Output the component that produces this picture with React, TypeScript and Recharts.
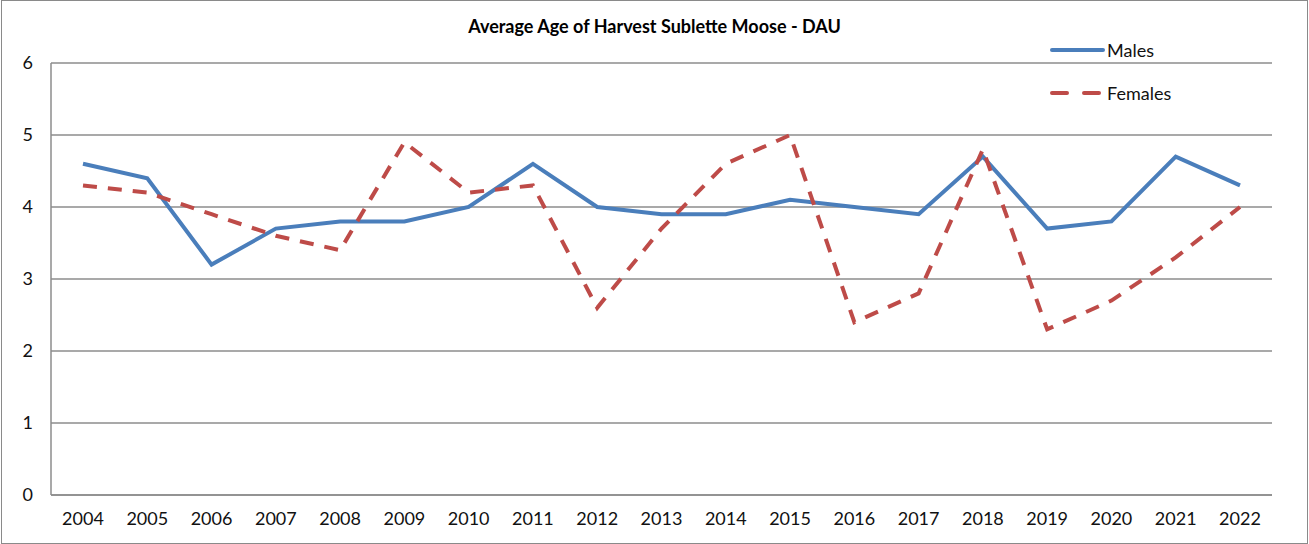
import { LineChart, Line, XAxis, YAxis, CartesianGrid } from 'recharts';

const years = ['2004', '2005', '2006', '2007', '2008', '2009', '2010', '2011', '2012', '2013', '2014', '2015', '2016', '2017', '2018', '2019', '2020', '2021', '2022'];
const males = [4.6, 4.4, 3.2, 3.7, 3.8, 3.8, 4.0, 4.6, 4.0, 3.9, 3.9, 4.1, 4.0, 3.9, 4.7, 3.7, 3.8, 4.7, 4.3];
const females = [4.3, 4.2, 3.9, 3.6, 3.4, 4.9, 4.2, 4.3, 2.6, 3.7, 4.6, 5.0, 2.4, 2.8, 4.8, 2.3, 2.7, 3.3, 4.0];
const yTicks = [0, 1, 2, 3, 4, 5, 6];

const data = years.map((year, i) => ({ year, Males: males[i], Females: females[i] }));

const font = 'Lato, "Open Sans", sans-serif';
const grid = '#8c8c8c';
const series = [
  { key: 'Males', color: '#4a7ebb', dash: undefined as string | undefined },
  { key: 'Females', color: '#be4b48', dash: '14 11' },
];

function LegendBox() {
  return (
    <div style={{ position: 'absolute', left: 1049, top: 28, fontFamily: font, fontSize: 18, color: '#111' }}>
      {series.map((s) => (
        <div key={s.key} style={{ display: 'flex', alignItems: 'center', height: 43 }}>
          <svg width={56} height={8}>
            <line
              x1={3}
              y1={4}
              x2={54}
              y2={4}
              stroke={s.color}
              strokeWidth={4}
              strokeLinecap="round"
              strokeDasharray={s.dash ? '15 17' : undefined}
            />
          </svg>
          <span style={{ marginLeft: 2 }}>{s.key}</span>
        </div>
      ))}
    </div>
  );
}

export default function App() {
  return (
    <div style={{ position: 'absolute', left: 0, top: 0, width: 1309, height: 544, background: '#fff' }}>
      <div
        style={{
          position: 'absolute',
          left: 1,
          top: 0,
          width: 1307,
          height: 544,
          border: '1.5px solid #8a8a8a',
          boxSizing: 'border-box',
        }}
      />
      <div
        style={{
          position: 'absolute',
          left: 0,
          top: 15,
          width: 1309,
          textAlign: 'center',
          fontFamily: font,
          fontWeight: 700,
          fontSize: 18,
          color: '#000',
        }}
      >
        Average Age of Harvest Sublette Moose - DAU
      </div>
      <LineChart
        width={1309}
        height={544}
        data={data}
        margin={{ top: 63, right: 37, bottom: 19, left: 21 }}
        style={{ position: 'absolute', left: 0, top: 0 }}
      >
        <CartesianGrid vertical={false} stroke={grid} strokeWidth={1.5} />
        <XAxis
          dataKey="year"
          height={30}
          padding={{ left: 32, right: 32 }}
          tickLine={false}
          tickSize={0}
          tickMargin={17}
          stroke={grid}
          strokeWidth={1.5}
          tick={{ fill: '#111', fontSize: 18, fontFamily: font }}
          interval={0}
        />
        <YAxis
          width={30}
          domain={[0, 6]}
          ticks={yTicks}
          tickLine={false}
          tickSize={0}
          tickMargin={18}
          stroke={grid}
          strokeWidth={1.5}
          tick={{ fill: '#111', fontSize: 18, fontFamily: font }}
        />
        {series.map((s) => (
          <Line
            key={s.key}
            type="linear"
            dataKey={s.key}
            stroke={s.color}
            strokeWidth={4}
            strokeDasharray={s.dash}
            dot={false}
            isAnimationActive={false}
          />
        ))}
      </LineChart>
      <LegendBox />
    </div>
  );
}
